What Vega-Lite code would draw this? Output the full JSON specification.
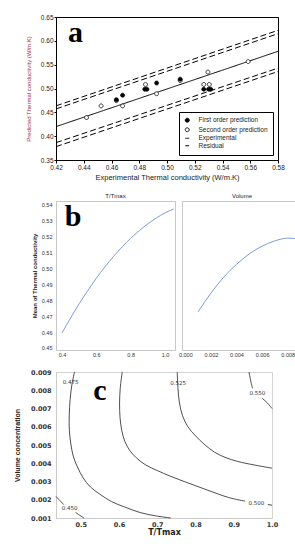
{
"$schema": "https://vega.github.io/schema/vega-lite/v6.json",
"background": "white",
"padding": {"left": 12, "top": 13, "right": 2, "bottom": 2},
"config": {"font": "Liberation Sans", "view": {"stroke": null}, "axis": {"grid": false, "labelColor": "#333", "titleColor": "#222", "titleFontWeight": "normal", "labelOverlap": false, "labelFlush": false}},
"spacing": 10,
"columns": 1,
"align": "none",
"resolve": {"scale": {"x": "independent", "y": "independent", "shape": "independent", "fill": "independent", "strokeDash": "independent", "size": "independent"}, "legend": {"shape": "independent", "fill": "independent", "strokeDash": "independent", "size": "independent"}},
"datasets": {
"lines_a": [
{"series": "Experimental", "line": "e", "exp": 0.42, "pred": 0.42},
{"series": "Experimental", "line": "e", "exp": 0.58, "pred": 0.578},
{"series": "Residual", "line": "u1", "exp": 0.42, "pred": 0.4636},
{"series": "Residual", "line": "u1", "exp": 0.58, "pred": 0.622},
{"series": "Residual", "line": "u2", "exp": 0.42, "pred": 0.4572},
{"series": "Residual", "line": "u2", "exp": 0.58, "pred": 0.615},
{"series": "Residual", "line": "l1", "exp": 0.42, "pred": 0.3864},
{"series": "Residual", "line": "l1", "exp": 0.58, "pred": 0.5428},
{"series": "Residual", "line": "l2", "exp": 0.42, "pred": 0.378},
{"series": "Residual", "line": "l2", "exp": 0.58, "pred": 0.5357}
],
"points_a": [
{"series": "Second order prediction", "exp": 0.442, "pred": 0.439},
{"series": "Second order prediction", "exp": 0.4525, "pred": 0.4635},
{"series": "Second order prediction", "exp": 0.4635, "pred": 0.4745},
{"series": "Second order prediction", "exp": 0.468, "pred": 0.4635},
{"series": "Second order prediction", "exp": 0.4845, "pred": 0.5085},
{"series": "Second order prediction", "exp": 0.4925, "pred": 0.489},
{"series": "Second order prediction", "exp": 0.5095, "pred": 0.5165},
{"series": "Second order prediction", "exp": 0.5265, "pred": 0.5085},
{"series": "Second order prediction", "exp": 0.5295, "pred": 0.5345},
{"series": "Second order prediction", "exp": 0.5305, "pred": 0.5085},
{"series": "Second order prediction", "exp": 0.5585, "pred": 0.5565},
{"series": "First order prediction", "exp": 0.4635, "pred": 0.4765},
{"series": "First order prediction", "exp": 0.468, "pred": 0.486},
{"series": "First order prediction", "exp": 0.484, "pred": 0.4985},
{"series": "First order prediction", "exp": 0.4855, "pred": 0.4985},
{"series": "First order prediction", "exp": 0.4925, "pred": 0.5115},
{"series": "First order prediction", "exp": 0.5095, "pred": 0.5195},
{"series": "First order prediction", "exp": 0.5265, "pred": 0.4985},
{"series": "First order prediction", "exp": 0.53, "pred": 0.4985},
{"series": "First order prediction", "exp": 0.5315, "pred": 0.4985}
],
"curves": [
{"factor": "T/Tmax", "x": 0.4, "y": 0.4595},
{"factor": "T/Tmax", "x": 0.5, "y": 0.4778},
{"factor": "T/Tmax", "x": 0.6, "y": 0.4939},
{"factor": "T/Tmax", "x": 0.7, "y": 0.5076},
{"factor": "T/Tmax", "x": 0.8, "y": 0.519},
{"factor": "T/Tmax", "x": 0.9, "y": 0.5281},
{"factor": "T/Tmax", "x": 1.0, "y": 0.535},
{"factor": "T/Tmax", "x": 1.05, "y": 0.5375},
{"factor": "Volume", "x": 0.001, "y": 0.4728},
{"factor": "Volume", "x": 0.002, "y": 0.4845},
{"factor": "Volume", "x": 0.003, "y": 0.4945},
{"factor": "Volume", "x": 0.004, "y": 0.5026},
{"factor": "Volume", "x": 0.005, "y": 0.5092},
{"factor": "Volume", "x": 0.006, "y": 0.5141},
{"factor": "Volume", "x": 0.007, "y": 0.5174},
{"factor": "Volume", "x": 0.008, "y": 0.5191},
{"factor": "Volume", "x": 0.0089, "y": 0.5187}
],
"contours": [
{"seg": "450a", "i": 0, "T": 0.435, "V": 0.00218},
{"seg": "450a", "i": 1, "T": 0.4455, "V": 0.00195},
{"seg": "450a", "i": 2, "T": 0.4555, "V": 0.00173},
{"seg": "450b", "i": 0, "T": 0.486, "V": 0.00131},
{"seg": "450b", "i": 1, "T": 0.497, "V": 0.00115},
{"seg": "450b", "i": 2, "T": 0.508, "V": 0.001},
{"seg": "475", "i": 0, "T": 0.4835, "V": 0.009},
{"seg": "475", "i": 1, "T": 0.4765, "V": 0.0083},
{"seg": "475", "i": 2, "T": 0.472, "V": 0.0075},
{"seg": "475", "i": 3, "T": 0.4695, "V": 0.0066},
{"seg": "475", "i": 4, "T": 0.47, "V": 0.0058},
{"seg": "475", "i": 5, "T": 0.4735, "V": 0.0051},
{"seg": "475", "i": 6, "T": 0.48, "V": 0.0044},
{"seg": "475", "i": 7, "T": 0.491, "V": 0.0038},
{"seg": "475", "i": 8, "T": 0.506, "V": 0.0032},
{"seg": "475", "i": 9, "T": 0.525, "V": 0.0027},
{"seg": "475", "i": 10, "T": 0.55, "V": 0.0023},
{"seg": "475", "i": 11, "T": 0.58, "V": 0.0019},
{"seg": "475", "i": 12, "T": 0.615, "V": 0.0016},
{"seg": "475", "i": 13, "T": 0.655, "V": 0.0013},
{"seg": "475", "i": 14, "T": 0.695, "V": 0.00112},
{"seg": "475", "i": 15, "T": 0.735, "V": 0.001},
{"seg": "500a", "i": 0, "T": 0.6082, "V": 0.009},
{"seg": "500a", "i": 1, "T": 0.603, "V": 0.0081},
{"seg": "500a", "i": 2, "T": 0.6013, "V": 0.0073},
{"seg": "500a", "i": 3, "T": 0.6025, "V": 0.0065},
{"seg": "500a", "i": 4, "T": 0.607, "V": 0.0058},
{"seg": "500a", "i": 5, "T": 0.615, "V": 0.0052},
{"seg": "500a", "i": 6, "T": 0.628, "V": 0.0047},
{"seg": "500a", "i": 7, "T": 0.645, "V": 0.0043},
{"seg": "500a", "i": 8, "T": 0.67, "V": 0.0039},
{"seg": "500a", "i": 9, "T": 0.7, "V": 0.0036},
{"seg": "500a", "i": 10, "T": 0.733, "V": 0.0033},
{"seg": "500a", "i": 11, "T": 0.783, "V": 0.0029},
{"seg": "500a", "i": 12, "T": 0.835, "V": 0.0025},
{"seg": "500a", "i": 13, "T": 0.887, "V": 0.00212},
{"seg": "500a", "i": 14, "T": 0.93, "V": 0.00192},
{"seg": "500b", "i": 0, "T": 0.989, "V": 0.00174},
{"seg": "500b", "i": 1, "T": 1.0, "V": 0.0017},
{"seg": "525", "i": 0, "T": 0.7521, "V": 0.009},
{"seg": "525", "i": 1, "T": 0.754, "V": 0.0081},
{"seg": "525", "i": 2, "T": 0.758, "V": 0.0073},
{"seg": "525", "i": 3, "T": 0.766, "V": 0.0066},
{"seg": "525", "i": 4, "T": 0.78, "V": 0.006},
{"seg": "525", "i": 5, "T": 0.8, "V": 0.0055},
{"seg": "525", "i": 6, "T": 0.825, "V": 0.005},
{"seg": "525", "i": 7, "T": 0.85, "V": 0.0046},
{"seg": "525", "i": 8, "T": 0.88, "V": 0.0043},
{"seg": "525", "i": 9, "T": 0.91, "V": 0.0041},
{"seg": "525", "i": 10, "T": 0.955, "V": 0.0039},
{"seg": "525", "i": 11, "T": 1.0, "V": 0.00373},
{"seg": "550a", "i": 0, "T": 0.9398, "V": 0.009},
{"seg": "550a", "i": 1, "T": 0.9445, "V": 0.0085},
{"seg": "550a", "i": 2, "T": 0.949, "V": 0.0081},
{"seg": "550b", "i": 0, "T": 0.9746, "V": 0.00756},
{"seg": "550b", "i": 1, "T": 0.988, "V": 0.0073},
{"seg": "550b", "i": 2, "T": 1.0, "V": 0.007}
],
"contour_labels": [
{"lab": "0.450", "T": 0.4707, "V": 0.00155},
{"lab": "0.475", "T": 0.473, "V": 0.00847},
{"lab": "0.500", "T": 0.9594, "V": 0.00182},
{"lab": "0.525", "T": 0.7544, "V": 0.00838},
{"lab": "0.550", "T": 0.9616, "V": 0.00784}
]
},
"concat": [
{
"width": 222, "height": 143,
"view": {"stroke": "black", "strokeWidth": 1},
"layer": [
{"data": {"name": "lines_a"}, "mark": {"type": "line", "color": "black", "strokeWidth": 1},
 "encoding": {
  "x": {"field": "exp", "type": "quantitative", "scale": {"domain": [0.42, 0.58], "nice": false, "zero": false},
   "axis": {"tickCount": 8, "format": ".2f", "labelOverlap": false, "labelFlush": false, "title": "Experimental Thermal conductivity (W/m.K)", "titleFontSize": 7.5, "titlePadding": 3, "labelFontSize": 6.5, "labelColor": "#222", "tickSize": 3, "labelPadding": 1, "domainColor": "black", "tickColor": "black"}},
  "y": {"field": "pred", "type": "quantitative", "scale": {"domain": [0.35, 0.65], "nice": false, "zero": false},
   "axis": {"tickCount": 6, "format": ".2f", "labelOverlap": false, "labelFlush": false, "title": "Predicted Thermal conductivity (W/m.K)", "titleFontSize": 6, "titleColor": "#a0304a", "titlePadding": 9, "labelFontSize": 6.5, "labelColor": "#222", "tickSize": 2, "labelPadding": 1, "domainColor": "black", "tickColor": "black"}},
  "detail": {"field": "line"},
  "strokeDash": {"field": "series", "type": "nominal", "scale": {"domain": ["First order prediction", "Second order prediction", "Experimental", "Residual"], "range": [[1, 0], [1, 0], [1, 0], [6, 3]]},
   "legend": {"title": null, "orient": "bottom-right", "offset": 5, "strokeColor": "black", "fillColor": "white", "padding": 5, "labelFontSize": 6.5, "labelColor": "#222", "rowPadding": 0.5, "symbolStrokeColor": "black", "symbolStrokeWidth": 1, "labelOffset": 8, "labelLimit": 200}}}},
{"data": {"name": "points_a"}, "mark": {"type": "point", "stroke": "black", "strokeWidth": 0.8, "opacity": 1},
 "encoding": {
  "x": {"field": "exp", "type": "quantitative"},
  "y": {"field": "pred", "type": "quantitative"},
  "shape": {"field": "series", "type": "nominal", "scale": {"domain": ["First order prediction", "Second order prediction", "Experimental", "Residual"], "range": ["circle", "circle", "stroke", "stroke"]}},
  "fill": {"field": "series", "type": "nominal", "scale": {"domain": ["First order prediction", "Second order prediction", "Experimental", "Residual"], "range": ["black", "white", "transparent", "transparent"]}},
  "size": {"field": "series", "type": "nominal", "scale": {"domain": ["First order prediction", "Second order prediction", "Experimental", "Residual"], "range": [16, 14, 300, 300]}},
  "strokeDash": {"field": "series", "type": "nominal"}
 }},
{"data": {"values": [{}]}, "mark": {"type": "text", "text": "a", "font": "Liberation Serif", "fontWeight": "bold", "fontSize": 30, "align": "center", "baseline": "alphabetic", "color": "black"},
 "encoding": {"x": {"datum": 0.434}, "y": {"datum": 0.598}}}
]
},
{
"hconcat": [
{
"width": 119, "height": 149,
"view": {"stroke": "#c8c8c8"},
"title": {"text": "T/Tmax", "fontSize": 6, "offset": 2, "fontWeight": "normal", "color": "#222"},
"layer": [
{"data": {"name": "curves"}, "transform": [{"filter": "datum.factor === 'T/Tmax'"}],
 "mark": {"type": "line", "color": "#7f9bd8", "strokeWidth": 1, "interpolate": "monotone"},
 "encoding": {
  "x": {"field": "x", "type": "quantitative", "scale": {"domain": [0.365, 1.058], "nice": false, "zero": false}, "axis": {"tickCount": 4, "format": ".1f", "labelOverlap": false, "labelFlush": false, "title": null, "labelFontSize": 5.5, "tickSize": 0, "domain": false, "labelPadding": 2}},
  "y": {"field": "y", "type": "quantitative", "scale": {"domain": [0.4487, 0.5425], "nice": false, "zero": false}, "axis": {"tickCount": 10, "format": ".2f", "labelOverlap": false, "labelFlush": false, "title": "Mean of Thermal conductivity", "titleFontSize": 6, "titleFontWeight": "bold", "titlePadding": 4, "labelFontSize": 5.5, "tickSize": 0, "domain": false, "labelPadding": 4}}
 }},
{"data": {"values": [{}]}, "mark": {"type": "text", "text": "b", "font": "Liberation Serif", "fontWeight": "bold", "fontSize": 30, "align": "center", "baseline": "alphabetic", "color": "black"},
 "encoding": {"x": {"datum": 0.464}, "y": {"datum": 0.5268}}}
]
},
{
"width": 120, "height": 149,
"view": {"stroke": "#c8c8c8"},
"title": {"text": "Volume", "fontSize": 6, "offset": 2, "fontWeight": "normal", "color": "#222"},
"layer": [
{"data": {"name": "curves"}, "transform": [{"filter": "datum.factor === 'Volume'"}],
 "mark": {"type": "line", "color": "#7f9bd8", "strokeWidth": 1, "interpolate": "monotone"},
 "encoding": {
  "x": {"field": "x", "type": "quantitative", "scale": {"domain": [-0.00026, 0.00912], "nice": false, "zero": false}, "axis": {"tickCount": 5, "format": ".3f", "labelOverlap": false, "labelFlush": false, "title": null, "labelFontSize": 5.5, "tickSize": 0, "domain": false, "labelPadding": 2}},
  "y": {"field": "y", "type": "quantitative", "scale": {"domain": [0.4487, 0.5425], "nice": false, "zero": false}, "axis": null}
 }}
]
}
],
"spacing": 0,
"resolve": {"scale": {"x": "independent", "y": "independent"}}
},
{
"width": 216, "height": 146,
"view": {"stroke": "#d4d4d4"},
"layer": [
{"data": {"name": "contours"}, "mark": {"type": "line", "color": "#3a3a3a", "strokeWidth": 0.9, "interpolate": "catmull-rom"},
 "encoding": {
  "x": {"field": "T", "type": "quantitative", "scale": {"domain": [0.435, 1.0], "nice": false, "zero": false},
   "axis": {"tickCount": 6, "format": ".1f", "labelOverlap": false, "labelFlush": false, "title": "T/Tmax", "titleFont": "DejaVu Sans", "titleFontSize": 8, "titleFontWeight": "bold", "titlePadding": 1, "labelFont": "DejaVu Sans", "labelFontWeight": "bold", "labelFontSize": 6.5, "tickSize": 0, "labelPadding": 3, "domainColor": "#cccccc"}},
  "y": {"field": "V", "type": "quantitative", "scale": {"domain": [0.001, 0.009], "nice": false, "zero": false},
   "axis": {"tickCount": 8, "format": ".3f", "labelOverlap": false, "labelFlush": false, "title": "Volume concentration", "titleFontSize": 7, "titleFontWeight": "bold", "titlePadding": 10, "labelFont": "DejaVu Sans", "labelFontWeight": "bold", "labelFontSize": 6.5, "tickSize": 0, "labelPadding": 5, "domainColor": "#cccccc"}},
  "detail": {"field": "seg"}, "order": {"field": "i", "type": "quantitative"}}},
{"data": {"name": "contour_labels"}, "mark": {"type": "text", "font": "DejaVu Sans", "fontSize": 5.5, "color": "#333"},
 "encoding": {"x": {"field": "T", "type": "quantitative"}, "y": {"field": "V", "type": "quantitative"}, "text": {"field": "lab"}}},
{"data": {"values": [{}]}, "mark": {"type": "text", "text": "c", "font": "Liberation Serif", "fontWeight": "bold", "fontSize": 30, "align": "center", "baseline": "alphabetic", "color": "black"},
 "encoding": {"x": {"datum": 0.55}, "y": {"datum": 0.00747}}}
]
}
]
}
